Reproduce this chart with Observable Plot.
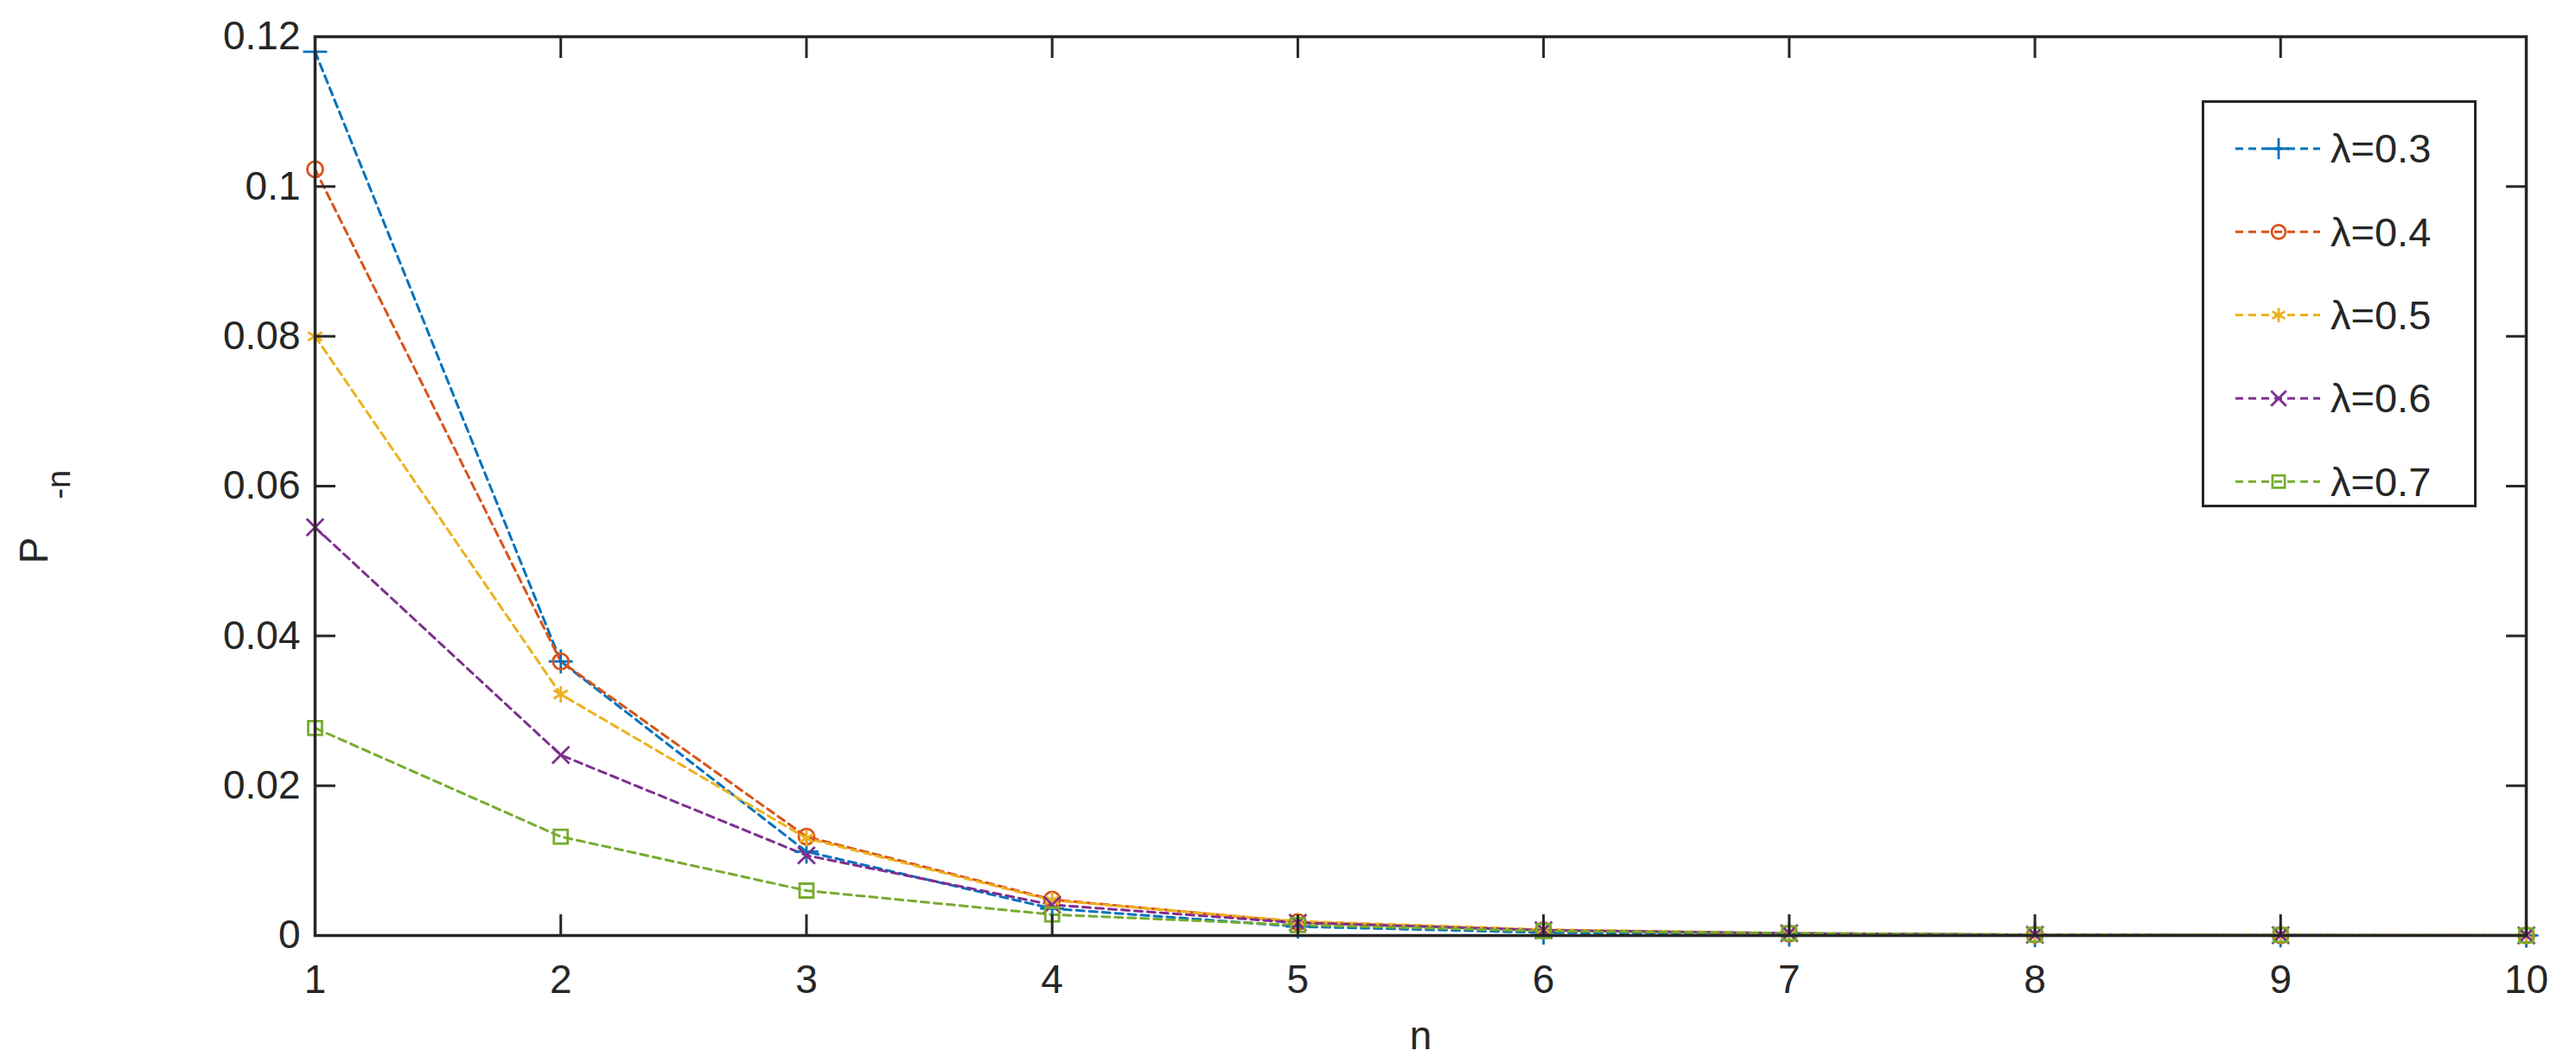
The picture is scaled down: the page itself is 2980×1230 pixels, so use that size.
<!DOCTYPE html>
<html>
<head>
<meta charset="utf-8">
<script src="https://cdn.jsdelivr.net/npm/d3@7"></script>
<script src="https://cdn.jsdelivr.net/npm/@observablehq/plot@0.6"></script>
<style>
  html, body { margin: 0; padding: 0; background: #fff; }
  #wrap { position: relative; width: 2980px; height: 1230px; font-family: "Liberation Sans", Arial, Helvetica, sans-serif; }
  #legend { position: absolute; left: 2547px; top: 116px; width: 318px; height: 471px; box-sizing: border-box; border: 3px solid #262626; background: #fff; }
  #legend svg { position: absolute; left: 0; top: 0; }
</style>
</head>
<body>
<div id="wrap"><div id="legend"></div></div>
<script>
// ---- data ----
const nValues = [1, 2, 3, 4, 5, 6, 7, 8, 9, 10];
const seriesLabels = ["λ=0.3", "λ=0.4", "λ=0.5", "λ=0.6", "λ=0.7"];
const pLambda03 = [0.1180, 0.0366, 0.0112, 0.0036, 0.0012, 0.0004, 0.00012, 0.00004, 0.00001, 0.000004];
const pLambda04 = [0.1023, 0.0366, 0.0132, 0.0048, 0.0018, 0.0007, 0.00025, 0.00009, 0.00003, 0.00001];
const pLambda05 = [0.0800, 0.0322, 0.0130, 0.0047, 0.0019, 0.0008, 0.0003, 0.0001, 0.00004, 0.00002];
const pLambda06 = [0.0545, 0.0241, 0.0107, 0.0041, 0.0017, 0.0007, 0.0003, 0.0001, 0.00005, 0.00002];
const pLambda07 = [0.0277, 0.0132, 0.0060, 0.0028, 0.0014, 0.0006, 0.0003, 0.0001, 0.00006, 0.00002];
const seriesColors = ["#0072BD", "#D95319", "#EDB120", "#7E2F8E", "#77AC30"];
const seriesSymbols = ["plus", "circle", "asterisk", "times", "square"];
const xTicks = [1, 2, 3, 4, 5, 6, 7, 8, 9, 10];
const yTicks = [0, 0.02, 0.04, 0.06, 0.08, 0.1, 0.12];

const allSeries = [pLambda03, pLambda04, pLambda05, pLambda06, pLambda07];
const tables = allSeries.map(vals => vals.map((v, j) => ({n: nValues[j], p: v})));

const axisColor = "#262626";
const fontSize = 46;
const dash = "9,6";

const lineMarks = tables.map((t, i) => Plot.line(t, {x: "n", y: "p", stroke: seriesColors[i], strokeWidth: 3, strokeDasharray: dash}));
const dotMarks = tables.map((t, i) => Plot.dot(t, {x: "n", y: "p", stroke: seriesColors[i], symbol: seriesSymbols[i], r: 9, strokeWidth: 2.8, fill: "none"}));

const svg = Plot.plot({
  width: 2980,
  height: 1230,
  marginLeft: 364,
  marginRight: 58,
  marginTop: 42,
  marginBottom: 148,
  style: {background: "white", fontFamily: '"Liberation Sans", Arial, Helvetica, sans-serif', color: axisColor},
  x: {domain: [1, 10]},
  y: {domain: [0, 0.12]},
  marks: [
    ...lineMarks,
    ...dotMarks,
    Plot.frame({stroke: axisColor, strokeWidth: 3.5}),
    // tick labels
    Plot.axisX(xTicks, {anchor: "bottom", tickSize: 0, tickPadding: 34, fontSize, label: null, tickFormat: d => String(d), fill: axisColor}),
    Plot.axisY(yTicks, {anchor: "left", tickSize: 0, tickPadding: 17, fontSize, label: null, tickFormat: d => String(+d.toFixed(2)), fill: axisColor}),
    // inward tick marks on all four sides
    Plot.axisX(xTicks, {anchor: "bottom", tickSize: 24, dy: -24, text: null, label: null, stroke: axisColor, strokeWidth: 3}),
    Plot.axisX(xTicks, {anchor: "top", tickSize: 24, dy: 24, text: null, label: null, stroke: axisColor, strokeWidth: 3}),
    Plot.axisY(yTicks, {anchor: "left", tickSize: 24, dx: 24, text: null, label: null, stroke: axisColor, strokeWidth: 3}),
    Plot.axisY(yTicks, {anchor: "right", tickSize: 24, dx: -24, text: null, label: null, stroke: axisColor, strokeWidth: 3}),
    // x axis title
    Plot.text(["n"], {frameAnchor: "bottom", dy: 131, lineAnchor: "bottom", fontSize, fill: axisColor})
  ]
});

// y axis title with subscript
const yLab = d3.select(svg).append("text")
  .attr("transform", "translate(55,598) rotate(-90)")
  .attr("text-anchor", "middle")
  .attr("font-size", fontSize)
  .attr("fill", axisColor);
yLab.append("tspan").text("P");
yLab.append("tspan").attr("dy", 26).attr("dx", 44).attr("font-size", 38).text("-n");

document.getElementById("wrap").prepend(svg);

// legend
const leg = d3.select("#legend").append("svg").attr("width", 312).attr("height", 465);
const rowGap = 96.3, firstRow = 53;
const symMap = {plus: d3.symbolPlus, circle: d3.symbolCircle, asterisk: d3.symbolAsterisk, times: d3.symbolTimes, square: d3.symbolSquare};
seriesLabels.forEach((lab, i) => {
  const g = leg.append("g").attr("transform", `translate(0,${firstRow + i * rowGap})`);
  g.append("line").attr("x1", 36).attr("x2", 134).attr("y1", 0).attr("y2", 0)
    .attr("stroke", seriesColors[i]).attr("stroke-width", 3).attr("stroke-dasharray", dash);
  g.append("path").attr("transform", "translate(86,0)")
    .attr("d", d3.symbol(symMap[seriesSymbols[i]], Math.PI * 64)())
    .attr("fill", "none").attr("stroke", seriesColors[i]).attr("stroke-width", 2.8);
  g.append("text").attr("x", 146).attr("y", 0).attr("dy", "0.35em")
    .attr("font-size", 47).attr("fill", axisColor)
    .attr("font-family", '"Liberation Sans", Arial, Helvetica, sans-serif')
    .text(lab);
});
</script>
</body>
</html>
